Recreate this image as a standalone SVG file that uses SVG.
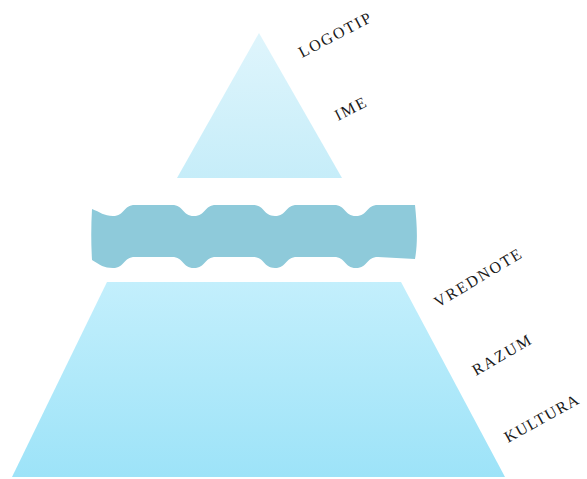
<svg xmlns="http://www.w3.org/2000/svg" width="587" height="479" viewBox="0 0 587 479">
<defs>
<linearGradient id="gTop" x1="0" y1="0" x2="0" y2="1">
<stop offset="0" stop-color="#dff5fc"/>
<stop offset="1" stop-color="#c6edf9"/>
</linearGradient>
<linearGradient id="gBot" x1="0" y1="0" x2="0" y2="1">
<stop offset="0" stop-color="#c3effc"/>
<stop offset="1" stop-color="#9de3f8"/>
</linearGradient>
<style>
.lbl{font-family:"Liberation Serif","DejaVu Serif",serif;font-size:16px;letter-spacing:1.8px;fill:#1a1a1a;}
</style>
</defs>
<rect width="587" height="479" fill="#ffffff"/>
<g id="tip">
<polygon points="259,33 342,178 177,178" fill="url(#gTop)"/>
</g>
<g id="waterline">
<path d="M92,209 C100,212 104,216 113,216 C125,216 123,205 135,205 L172,205 C184,205 182,216 194,216 C206,216 204,205 216,205 L253,205 C265,205 263,216 275,216 C287,216 285,205 297,205 L334,205 C346,205 344,216 356,216 C368,216 366,205 378,205 L415,205 C417,225 418,242 415,259 L378,257 C366,257 368,268 356,268 C344,268 346,257 334,257 L297,257 C285,257 287,268 275,268 C263,268 265,257 253,257 L216,257 C204,257 206,268 194,268 C182,268 184,257 172,257 L135,257 C123,257 125,268 113,268 C104,268 100,265 92,260 C91,243 91,226 92,209 Z" fill="#8ecada"/>
</g>
<g id="base">
<polygon points="107,282 401,282 505,477 12,477" fill="url(#gBot)"/>
</g>
<g id="labels">
<text class="lbl" transform="translate(302,58) rotate(-27.5)">LOGOTIP</text>
<text class="lbl" transform="translate(338,121) rotate(-27)">IME</text>
<text class="lbl" transform="translate(438,308) rotate(-31)">VREDNOTE</text>
<text class="lbl" transform="translate(476,376) rotate(-30)">RAZUM</text>
<text class="lbl" transform="translate(508,443) rotate(-29)" style="letter-spacing:1.2px">KULTURA</text>
</g>
<g id="connectors"/>
</svg>
